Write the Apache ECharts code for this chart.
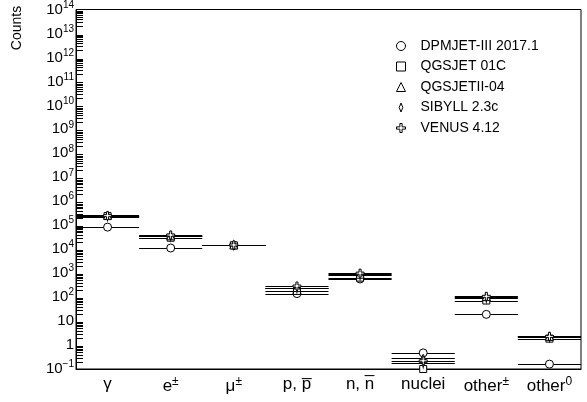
<!DOCTYPE html>
<html>
<head>
<meta charset="utf-8">
<script src="https://cdn.jsdelivr.net/npm/echarts@6/dist/echarts.min.js"></script>
<style>
  html, body { margin: 0; padding: 0; background: #fff; }
  #chart { width: 587px; height: 402px; }
</style>
</head>
<body>
<div id="chart"></div>
<script>
// Particle categories (bins) and their axis labels (rich text for superscripts / bars)
const categories = ['gamma', 'e', 'mu', 'p', 'n', 'nuclei', 'otherCharged', 'otherNeutral'];
const xTickLabels = ['γ', 'e{sup|±}', 'μ{sup|±}', 'p, p\u0305', 'n, n\u0305', 'nuclei', 'other{sup|±}', 'other{sup|0}'];

// Hadronic interaction models
const models = ['DPMJET-III 2017.1', 'QGSJET 01C', 'QGSJETII-04', 'SIBYLL 2.3c', 'VENUS 4.12'];

// Counts per category for each model
const dpmjet    = [8.3e4, 1.12e4, 1.45e4, 140, 570, 0.47, 19, 0.16];
const qgsjet01c = [2.4e5, 3.0e4, 1.45e4, 180, 650, 0.1, 72, 1.85];
const qgsjetII  = [2.6e5, 3.6e4, 1.5e4, 250, 900, 0.28, 105, 2.3];
const sibyll    = [2.3e5, 3.4e4, 1.45e4, 230, 800, 0.17, 90, 2.1];
const venus     = [2.5e5, 3.9e4, 1.5e4, 290, 1000, 0.22, 108, 2.3];

const modelValues = [dpmjet, qgsjet01c, qgsjetII, sibyll, venus];

// Marker shapes: open circle, open square, open triangle, thin diamond, open cross
const markerSymbols = [
  'circle',
  'rect',
  'triangle',
  'path://M2,0 L4,5 L2,10 L0,5 Z',
  'path://M3,0 L5,0 L5,3 L8,3 L8,5 L5,5 L5,8 L3,8 L3,5 L0,5 L0,3 L3,3 Z'
];
const markerSizes = [8, 7, 8, [5, 9], 8];

// Y axis: log scale, decades from 1e-1 to 1e14
const yMin = 0.1, yMax = 1e14;
const decadeExponents = [];
for (let e = -1; e < 14; e++) decadeExponents.push(e);

const FONT = 'Liberation Sans';

const chart = echarts.init(document.getElementById('chart'), null, { renderer: 'canvas' });

const series = [];

// minor log ticks (2..9 of each decade) along the left axis, drawn as one group
series.push({
  type: 'custom',
  silent: true,
  z: 5,
  clip: false,
  data: [[0, 1]],
  renderItem(params, api) {
    const w = api.size([1, 1])[0];
    const left = api.coord([0, 1])[0] - w / 2;
    const children = [];
    decadeExponents.forEach((e) => {
      for (let k = 2; k <= 9; k++) {
        const y = Math.round(api.coord([0, k * Math.pow(10, e)])[1]) + 0.5;
        children.push({
          type: 'line',
          shape: { x1: left, y1: y, x2: left + 7, y2: y },
          style: { stroke: '#000', lineWidth: 1 }
        });
      }
    });
    return { type: 'group', children };
  }
});

// horizontal bin lines (x extent of each bin) for each model
models.forEach((m, i) => {
  series.push({
    type: 'custom',
    name: m + ' bins',
    silent: true,
    z: 2,
    clip: true,
    data: modelValues[i].map((v, j) => [j, v]),
    renderItem(params, api) {
      const c = api.coord([api.value(0), api.value(1)]);
      const w = api.size([1, 1])[0];
      const y = Math.round(c[1]) + 0.5;
      return {
        type: 'line',
        shape: { x1: c[0] - w / 2, y1: y, x2: c[0] + w / 2, y2: y },
        style: { stroke: '#000', lineWidth: 1 }
      };
    }
  });
});

// markers for each model
models.forEach((m, i) => {
  series.push({
    type: 'scatter',
    name: m,
    z: 3 + i,
    symbol: markerSymbols[i],
    symbolSize: markerSizes[i],
    symbolKeepAspect: true,
    itemStyle: { color: '#fff', borderColor: '#000', borderWidth: 1, opacity: 1 },
    emphasis: { disabled: true },
    data: modelValues[i].map((v, j) => [j, v])
  });
});

const option = {
  animation: false,
  backgroundColor: '#fff',
  grid: { left: 76, right: 6, top: 6, bottom: 33, show: true, borderColor: '#000', borderWidth: 1, backgroundColor: 'transparent' },
  legend: {
    data: models,
    orient: 'vertical',
    left: 391,
    top: 34,
    itemWidth: 9,
    itemHeight: 9,
    itemGap: 6.5,
    selectedMode: false,
    itemStyle: { color: '#fff', borderColor: '#000', borderWidth: 1 },
    textStyle: { fontFamily: FONT, fontSize: 14, color: '#000', padding: [0, 0, 0, 10] }
  },
  graphic: [{
    type: 'text',
    x: 17,
    y: 28,
    rotation: Math.PI / 2,
    style: { text: 'Counts', fontFamily: FONT, fontSize: 14, fill: '#000', align: 'center', verticalAlign: 'middle' }
  }],
  xAxis: {
    type: 'category',
    data: categories,
    boundaryGap: true,
    axisLine: { lineStyle: { color: '#000', width: 1 } },
    axisTick: { inside: true, length: 10, alignWithLabel: false, lineStyle: { color: '#000' } },
    axisLabel: {
      interval: 0,
      margin: 7,
      fontFamily: FONT,
      fontSize: 17,
      color: '#000',
      formatter: (val, idx) => xTickLabels[idx],
      rich: {
        sup: { fontFamily: FONT, fontSize: 12, color: '#000', padding: [0, 0, 9, 0] }
      }
    },
    splitLine: { show: false }
  },
  yAxis: {
    type: 'log',
    logBase: 10,
    min: yMin,
    max: yMax,
    interval: 1,
    axisLine: { show: true, lineStyle: { color: '#000', width: 1 } },
    axisTick: { inside: true, length: 15, lineStyle: { color: '#000' } },
    minorTick: { show: false },
    splitLine: { show: false },
    axisLabel: {
      margin: 2,
      fontFamily: FONT,
      fontSize: 15,
      color: '#000',
      formatter: (v) => {
        const e = Math.round(Math.log10(v));
        if (e === 0) return '1';
        if (e === 1) return '10';
        return '10{sup|' + (e < 0 ? '\u2212' + (-e) : e) + '}';
      },
      rich: {
        sup: { fontFamily: FONT, fontSize: 10, color: '#000', padding: [0, 0, 9, 0] }
      }
    }
  },
  series
};

chart.setOption(option);
</script>
</body>
</html>
